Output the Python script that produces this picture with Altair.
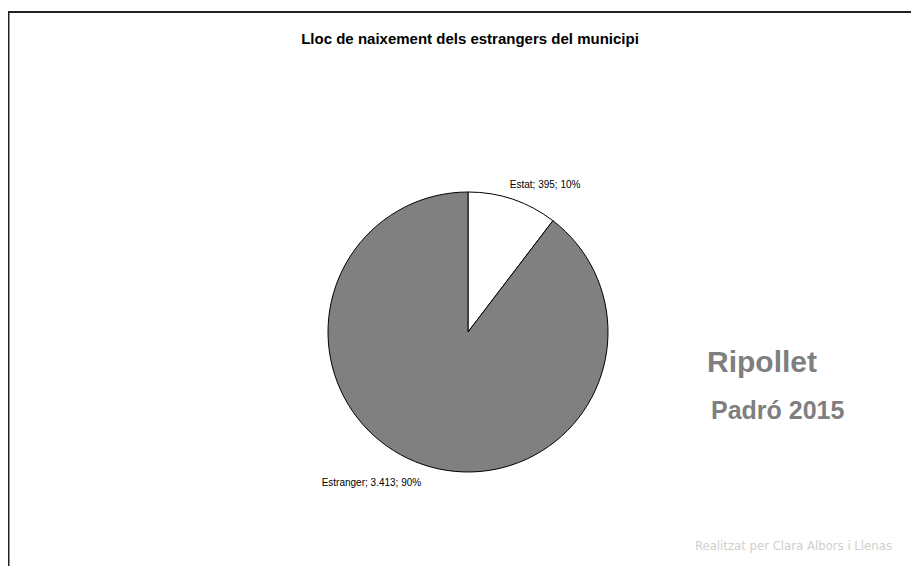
import altair as alt
import pandas as pd

categories = ["Estat", "Estranger"]
values = [395, 3413]
percents = [10, 90]
slice_colors = ["#ffffff", "#808080"]

def fmt(v):
    return f"{v:,}".replace(",", ".")

df = pd.DataFrame({
    "cat": categories,
    "val": values,
    "idx": list(range(len(categories))),
    "label": [f"{c}; {fmt(v)}; {p}%" for c, v, p in zip(categories, values, percents)],
})

W, H = 903, 558
CX, CY, R = 460, 324, 140

pie = alt.Chart(df).mark_arc(stroke="black", strokeWidth=1, outerRadius=R).encode(
    theta=alt.Theta("val:Q", stack=True),
    order=alt.Order("idx:Q"),
    x=alt.value(CX), y=alt.value(CY),
    color=alt.Color("cat:N", scale=alt.Scale(domain=categories, range=slice_colors), legend=None),
)

def slice_label(cat, align, dx, dy):
    return alt.Chart(df).transform_window(
        cum="sum(val)", sort=[{"field": "idx"}]
    ).transform_calculate(
        mid="datum.cum - datum.val / 2"
    ).transform_filter(
        alt.datum.cat == cat
    ).mark_text(font="Liberation Sans", fontSize=10, align=align, baseline="middle",
                radius=165, dx=dx, dy=dy).encode(
        theta=alt.Theta("mid:Q", stack=None),
        x=alt.value(CX), y=alt.value(CY), text="label:N",
    )

lab_estat = slice_label("Estat", "left", -11, 9)
lab_estr = slice_label("Estranger", "right", 6, -5)

border = alt.Chart(df).mark_rect(fill=None, stroke="#222222", strokeWidth=2).encode(
    x=alt.value(0.5), x2=alt.value(1200), y=alt.value(4), y2=alt.value(1200)
).transform_filter(alt.datum.idx == 0)

def note(txt, x, y, size, color, weight="bold", font="Liberation Sans", align="left"):
    return alt.Chart(pd.DataFrame({"t": [txt]})).mark_text(
        font=font, fontSize=size, fontWeight=weight, color=color, align=align, baseline="alphabetic"
    ).encode(x=alt.value(x), y=alt.value(y), text="t:N")

title = note("Lloc de naixement dels estrangers del municipi", 462, 36, 15, "#000000", align="center")
rip = note("Ripollet", 699, 364, 30, "#7f7f7f")
pad = note("Padró 2015", 703, 411, 25, "#7f7f7f")
credit = note("Realitzat per Clara Albors i Llenas", 884, 542, 13, "#cfcfcf", weight="normal",
              font="DejaVu Sans Condensed, DejaVu Sans", align="right")

chart = alt.layer(border, pie, lab_estat, lab_estr, title, rip, pad, credit).properties(
    width=W, height=H, autosize=alt.AutoSizeParams(type="none"), padding=0
).configure_view(stroke=None)

chart.save("out.html", embed_options={"renderer": "svg", "actions": False})
